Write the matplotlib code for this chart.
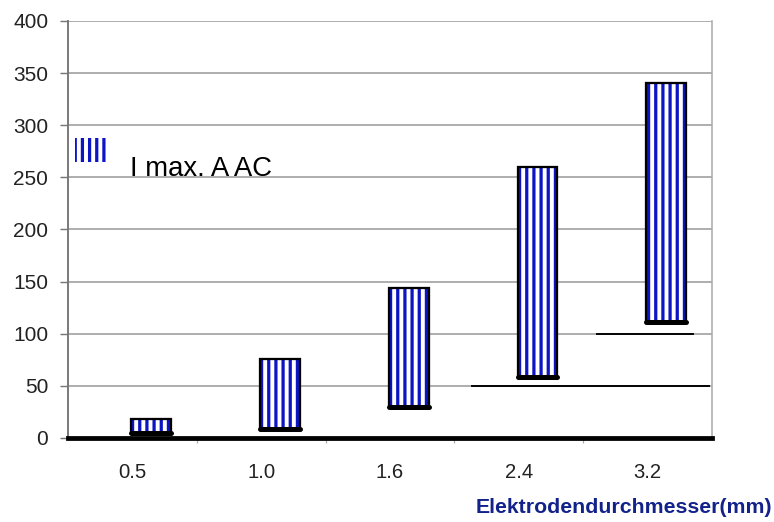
import numpy as np
import matplotlib
matplotlib.use("Agg")
import matplotlib.pyplot as plt
from matplotlib.patches import Rectangle

# electrode diameter vs current range (A, AC)
categories = ["0.5", "1.0", "1.6", "2.4", "3.2"]
i_min = [5, 9, 30, 58, 111]
i_max = [18, 76, 144, 260, 340]

# loose horizontal reference lines
ref_levels = [50, 100]
ref_from = [2.64, 3.61]
ref_to = [4.48, 4.35]

yticks = [0, 50, 100, 150, 200, 250, 300, 350, 400]

plt.rcParams["font.family"] = ["Liberation Sans", "DejaVu Sans"]
plt.rcParams["hatch.linewidth"] = 2.7

blue = "#0c14c4"
x = np.arange(len(categories))
xb = x + 0.145   # bars sit a bit right of the category centre
w = 0.31

fig = plt.figure(figsize=(9, 6.07), dpi=86)
ax = fig.add_axes([0.0879, 0.161, 0.832, 0.799])

heights = np.array(i_max) - np.array(i_min)
# striped fill, then black outline
ax.bar(xb, heights, w, bottom=i_min, color="white", edgecolor=blue,
       hatch="||", linewidth=0, zorder=3)
ax.bar(xb, heights, w, bottom=i_min, fill=False, edgecolor="black",
       linewidth=1.9, zorder=4)
# thick caps at the lower end
for xi, lo in zip(xb, i_min):
    ax.plot([xi - 0.155, xi + 0.155], [lo, lo], color="black", lw=4.2,
            solid_capstyle="round", zorder=5)

for lvl, a, b in zip(ref_levels, ref_from, ref_to):
    ax.plot([a, b], [lvl, lvl], color="black", lw=1.6, zorder=2)

ax.set_xlim(-0.5, 4.5)
ax.set_ylim(0, 400)
ax.set_yticks(yticks)
ax.set_xticks(x)
ax.set_xticklabels(categories)
ax.set_xticks(x[:-1] + 0.5, minor=True)
ax.yaxis.grid(True, color="#9a9a9a", lw=1.3, zorder=0)
ax.set_axisbelow(True)

ax.tick_params(axis="y", length=7, width=1.2, color="#777777", pad=9.5,
               labelsize=17.5, labelcolor="#222222")
ax.tick_params(axis="x", which="major", length=0, pad=21,
               labelsize=17, labelcolor="#222222")
ax.tick_params(axis="x", which="minor", length=4, width=1, color="#aaaaaa")

ax.spines["top"].set_visible(False)
ax.spines["left"].set_color("#777777")
ax.spines["left"].set_linewidth(1.6)
ax.spines["right"].set_color("#aaaaaa")
ax.spines["right"].set_linewidth(1.3)
ax.spines["bottom"].set_color("black")
ax.spines["bottom"].set_linewidth(4)
ax.spines["bottom"].set_zorder(6)

# legend
ax.add_patch(Rectangle((0.011, 0.662), 0.05, 0.057, transform=ax.transAxes,
                       facecolor="white", edgecolor=blue, hatch="||",
                       linewidth=0, zorder=3))
ax.text(0.096, 0.628, "I max. A AC", transform=ax.transAxes,
        fontsize=23, va="baseline", ha="left", color="black")

fig.text(0.997, 0.027, "Elektrodendurchmesser(mm)", ha="right", va="center",
         fontsize=17.8, fontweight="bold", color="#12228a")

fig.savefig("out.png", dpi=86)
